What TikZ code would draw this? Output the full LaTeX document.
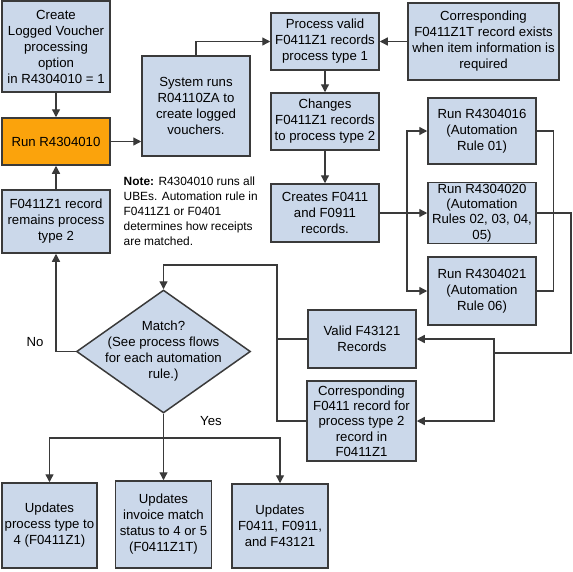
\documentclass[tikz,border=0pt]{standalone}
\usepackage{fontspec}
\setmainfont{Liberation Sans}
\usetikzlibrary{arrows.meta,shapes.geometric}
\definecolor{boxblue}{HTML}{CBD8EA}
\definecolor{boxorange}{HTML}{FBA30C}
\definecolor{edgegray}{HTML}{3A3A3A}
\tikzset{
  box/.style={draw=edgegray, line width=1.5pt, fill=boxblue, align=center, inner sep=0pt,
    minimum width=108pt, font=\fontsize{13.2}{16}\selectfont},
  tight/.style={font=\fontsize{13.2}{15.3}\selectfont},
  conn/.style={draw=edgegray, line width=1.3pt, -{Triangle[length=8pt,width=8pt]}},
  plainline/.style={draw=edgegray, line width=1.3pt},
  lbl/.style={inner sep=0pt, font=\fontsize{13.2}{16}\selectfont},
}
\begin{document}
\begin{tikzpicture}[x=1pt,y=-1pt]
\useasboundingbox (0,0) rectangle (573,571);
% left column
\node[box, minimum height=91pt] (create) at (56,46.5) {Create\\Logged Voucher\\processing\\option\\in R4304010 = 1};
\node[box, fill=boxorange, minimum height=47pt] (run) at (56,141.5) {Run R4304010};
\node[box, minimum height=63pt] (remains) at (56,221.5) {F0411Z1 record\\remains process\\type 2};
% system
\node[box, minimum height=100pt] (system) at (196,106) {System runs\\R04110ZA to\\create logged\\vouchers.};
% middle column
\node[box, minimum height=57pt] (procvalid) at (325,41.5) {Process valid\\F0411Z1 records\\process type 1};
\node[box, minimum width=151pt, minimum height=77pt] (corrT) at (483.5,41.5) {Corresponding\\F0411Z1T record exists\\when item information is\\required};
\node[box, minimum height=57pt] (changes) at (325,121.5) {Changes\\F0411Z1 records\\to process type 2};
\node[box, minimum height=58pt] (creates) at (325,213) {Creates F0411\\and F0911\\records.};
% automation rules
\node[box, minimum height=66pt] (r16) at (482,131) {Run R4304016\\(Automation\\Rule 01)};
\node[box, tight, minimum height=61pt] (r20) at (482,213) {Run R4304020\\(Automation\\Rules 02, 03, 04,\\05)};
\node[box, minimum height=68pt] (r21) at (482,291) {Run R4304021\\(Automation\\Rule 06)};
% records
\node[box, minimum height=58pt] (valid) at (362,339) {Valid F43121\\Records};
\node[box, tight, minimum width=109pt, minimum height=80pt] (corrF) at (361.5,421) {Corresponding\\F0411 record for\\process type 2\\record in\\F0411Z1};
% note
\node[anchor=north west, align=left, inner sep=0pt, font=\fontsize{11.9}{15}\selectfont] (note) at (123.5,177)
  {\textbf{Note:} R4304010 runs all\\UBEs. Automation rule in\\F0411Z1 or F0401\\determines how receipts\\are matched.};
% diamond
\node[diamond, draw=edgegray, line width=1.5pt, fill=boxblue, minimum width=174pt, minimum height=123pt, inner sep=0pt] (dia) at (163.5,351.5) {};
\node[lbl, align=center] (diatext) at (163.5,351.5) {Match?\\(See process flows\\for each automation\\rule.)};
% bottom boxes
\node[box, minimum width=95pt, minimum height=85pt] (upd1) at (49.5,525.5) {Updates\\process type to\\4 (F0411Z1)};
\node[box, minimum width=96pt, minimum height=87pt] (upd2) at (163.5,524.5) {Updates\\invoice match\\status to 4 or 5\\(F0411Z1T)};
\node[box, minimum width=96pt, minimum height=84pt] (upd3) at (280,526) {Updates\\F0411, F0911,\\and F43121};
% labels
\node[lbl] (nolbl) at (35,342) {No};
\node[lbl] (yeslbl) at (211,421) {Yes};
% coordinates
\coordinate (jx) at (407,213);
\coordinate (rr) at (571,353);
\coordinate (jv) at (494,353);
\coordinate (lx) at (277,265);
\coordinate (by) at (163.5,438);
% connectors
\draw[conn] (create) -- (run);
\draw[conn] (remains) -- (run);
\draw[conn] (run.east) -- (run.east -| system.west);
\draw[conn] (system.north) |- (procvalid.west);
\draw[conn] (corrT.west) -- (procvalid.east);
\draw[conn] (procvalid) -- (changes);
\draw[conn] (changes) -- (creates);
\draw[conn] (creates.east) -- (r20.west);
\draw[conn] (jx) |- (r16.west);
\draw[conn] (jx) |- (r21.west);
\draw[plainline] (r16.east) -- ++(17,0) |- (r21.east);
\draw[plainline] (r20.east) -| (rr) -- (jv);
\draw[conn] (jv) |- (valid.east);
\draw[conn] (jv) |- (corrF.east);
\draw[plainline] (valid.west) -- (valid.west -| lx);
\draw[conn] (corrF.west) -| (lx) -| (dia.north);
\draw[conn] (dia.west) -| (remains.south);
\draw[plainline] (dia.south) -- (by);
\draw[conn] (by) -- (upd2.north);
\draw[conn] (by) -| (upd1.north);
\draw[conn] (by) -| (upd3.north);
\end{tikzpicture}
\end{document}
